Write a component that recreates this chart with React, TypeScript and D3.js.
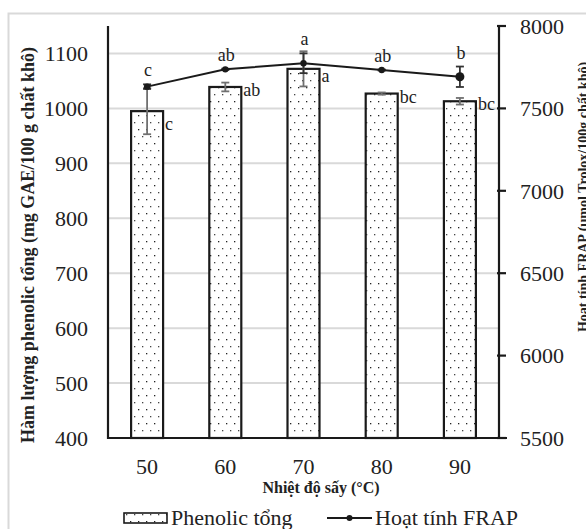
import React, { useEffect, useRef } from 'react';
import * as d3 from 'd3';

const temps = ['50', '60', '70', '80', '90'];
const phenolic = [995, 1039, 1072, 1027, 1013];
const phenolicErr = [42, 8, 32, 2, 6];
const phenolicLetters = ['c', 'ab', 'a', 'bc', 'bc'];
const frap = [7632, 7737, 7774, 7733, 7692];
const frapErr = [14, 4, 60, 3, 62];
const frapLetters = ['c', 'ab', 'a', 'ab', 'b'];
const leftTicks = [400, 500, 600, 700, 800, 900, 1000, 1100];
const rightTicks = [5500, 6000, 6500, 7000, 7500, 8000];

const FONT = "'Liberation Serif', serif";

function App() {
  const svgRef = useRef<SVGSVGElement>(null);

  useEffect(() => {
    const svg = d3.select(svgRef.current);
    svg.selectAll('*').remove();

    const left = 108, right = 499, top = 26, bottom = 438;

    const x = d3.scaleBand().domain(temps).range([left, right]);
    const yL = d3.scaleLinear().domain([400, 1150]).range([bottom, top]);
    const yR = d3.scaleLinear().domain([5500, 8000]).range([bottom, top]);

    // dotted fill
    const defs = svg.append('defs');
    const pat = defs.append('pattern')
      .attr('id', 'dots')
      .attr('patternUnits', 'userSpaceOnUse')
      .attr('width', 8).attr('height', 14);
    pat.append('rect').attr('width', 8).attr('height', 14).attr('fill', '#fff');
    pat.append('rect').attr('x', 2).attr('y', 3).attr('width', 1.3).attr('height', 1.3).attr('fill', '#222');
    pat.append('rect').attr('x', 6).attr('y', 10).attr('width', 1.3).attr('height', 1.3).attr('fill', '#444');

    // frame
    svg.append('path')
      .attr('d', 'M8.5,529 V13.5 H586')
      .attr('fill', 'none').attr('stroke', '#d9d9d9').attr('stroke-width', 2);

    // grid
    svg.append('g').selectAll('line')
      .data(leftTicks.filter(t => t > 400))
      .join('line')
      .attr('x1', left).attr('x2', right)
      .attr('y1', d => yL(d)).attr('y2', d => yL(d))
      .attr('stroke', '#d9d9d9').attr('stroke-width', 2);

    // bars
    const bw = 32;
    svg.append('g').selectAll('rect')
      .data(phenolic)
      .join('rect')
      .attr('x', (d, i) => x(temps[i])! + x.bandwidth() / 2 - bw / 2)
      .attr('y', d => yL(d))
      .attr('width', bw)
      .attr('height', d => bottom - yL(d))
      .attr('fill', 'url(#dots)')
      .attr('stroke', '#1a1a1a').attr('stroke-width', 2.2);

    const cx = (i: number) => x(temps[i])! + x.bandwidth() / 2;

    // bar error bars
    const eb = svg.append('g').attr('stroke', '#707070').attr('stroke-width', 1.8);
    phenolic.forEach((v, i) => {
      const y1 = yL(v - phenolicErr[i]), y2 = yL(v + phenolicErr[i]);
      eb.append('line').attr('x1', cx(i)).attr('x2', cx(i)).attr('y1', y1).attr('y2', y2);
      eb.append('line').attr('x1', cx(i) - 4).attr('x2', cx(i) + 4).attr('y1', y1).attr('y2', y1);
      eb.append('line').attr('x1', cx(i) - 4).attr('x2', cx(i) + 4).attr('y1', y2).attr('y2', y2);
    });

    // frap error bars
    const fe = svg.append('g').attr('stroke', '#333').attr('stroke-width', 1.8);
    frap.forEach((v, i) => {
      const y1 = yR(v - frapErr[i]), y2 = yR(v + frapErr[i]);
      fe.append('line').attr('x1', cx(i)).attr('x2', cx(i)).attr('y1', y1).attr('y2', y2);
      fe.append('line').attr('x1', cx(i) - 4).attr('x2', cx(i) + 4).attr('y1', y1).attr('y2', y1);
      fe.append('line').attr('x1', cx(i) - 4).attr('x2', cx(i) + 4).attr('y1', y2).attr('y2', y2);
    });

    // frap line
    const line = d3.line<number>().x((d, i) => cx(i)).y(d => yR(d));
    svg.append('path').datum(frap)
      .attr('d', line)
      .attr('fill', 'none').attr('stroke', '#1a1a1a').attr('stroke-width', 2);
    svg.append('g').selectAll('circle')
      .data(frap)
      .join('circle')
      .attr('cx', (d, i) => cx(i)).attr('cy', d => yR(d))
      .attr('r', (d, i) => (i === 4 ? 4.5 : 3.2))
      .attr('fill', '#1a1a1a');

    // letters
    const lab = svg.append('g').style('font-family', FONT).attr('font-size', 18).attr('fill', '#222');
    phenolic.forEach((v, i) => {
      const yy = Math.max(yL(v) + 9, yL(v - phenolicErr[i]) - 4);
      lab.append('text').attr('x', cx(i) + bw / 2 + 2).attr('y', yy).text(phenolicLetters[i]);
    });
    frap.forEach((v, i) => {
      lab.append('text')
        .attr('x', cx(i) + 1).attr('y', yR(v + frapErr[i]) - 8)
        .attr('text-anchor', 'middle').text(frapLetters[i]);
    });

    // axes
    const ax = svg.append('g').attr('stroke', '#1a1a1a').attr('stroke-width', 2.2).attr('fill', 'none');
    ax.append('line').attr('x1', left).attr('x2', left).attr('y1', top).attr('y2', bottom + 1);
    ax.append('line').attr('x1', left - 1).attr('x2', right + 8).attr('y1', bottom).attr('y2', bottom);
    ax.append('line').attr('x1', right).attr('x2', right).attr('y1', top).attr('y2', bottom);
    rightTicks.forEach(t => {
      ax.append('line').attr('x1', right - 2).attr('x2', right + 7).attr('y1', yR(t)).attr('y2', yR(t));
    });

    const tk = svg.append('g').style('font-family', FONT).attr('font-size', 22).attr('fill', '#222');
    leftTicks.forEach(t => {
      tk.append('text').attr('x', 88).attr('y', yL(t)).attr('dy', '0.35em')
        .attr('text-anchor', 'end').text(t);
    });
    rightTicks.forEach(t => {
      tk.append('text').attr('x', 520).attr('y', yR(t)).attr('dy', '0.35em').text(t);
    });
    temps.forEach((t, i) => {
      tk.append('text').attr('x', cx(i)).attr('y', 474).attr('text-anchor', 'middle').text(t);
    });

    // axis titles
    svg.append('text')
      .attr('transform', 'translate(34,245) rotate(-90)')
      .attr('text-anchor', 'middle')
      .style('font-family', FONT).attr('font-weight', 'bold').attr('font-size', 18).attr('fill', '#222')
      .text('Hàm lượng phenolic tổng (mg GAE/100 g chất khô)');
    svg.append('text')
      .attr('transform', 'translate(588,197) rotate(-90)')
      .attr('text-anchor', 'middle')
      .style('font-family', FONT).attr('font-weight', 'bold').attr('font-size', 14).attr('fill', '#222')
      .text('Hoạt tính FRAP (µmol Trolox/100g chất khô)');
    svg.append('text')
      .attr('x', 321).attr('y', 493).attr('text-anchor', 'middle')
      .style('font-family', FONT).attr('font-weight', 'bold').attr('font-size', 16).attr('fill', '#222')
      .text('Nhiệt độ sấy (°C)');

    // legend
    const lg = svg.append('g').style('font-family', FONT).attr('font-size', 22).attr('fill', '#222');
    lg.append('rect').attr('x', 124).attr('y', 513).attr('width', 43).attr('height', 10)
      .attr('fill', 'url(#dots)').attr('stroke', '#1a1a1a').attr('stroke-width', 1.6);
    lg.append('text').attr('x', 171).attr('y', 525).text('Phenolic tổng');
    lg.append('line').attr('x1', 327).attr('x2', 372).attr('y1', 518).attr('y2', 518)
      .attr('stroke', '#1a1a1a').attr('stroke-width', 2);
    lg.append('circle').attr('cx', 349.5).attr('cy', 518).attr('r', 3).attr('fill', '#1a1a1a');
    lg.append('text').attr('x', 375).attr('y', 525).text('Hoạt tính FRAP');
  }, []);

  return (
    <div style={{ position: 'fixed', left: 0, top: 0 }}>
      <svg ref={svgRef} width={586} height={529} style={{ display: 'block', background: '#fff' }} />
    </div>
  );
}

export default App;
